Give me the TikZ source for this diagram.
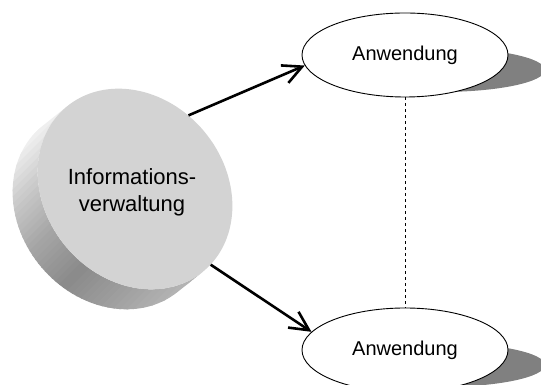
\documentclass[tikz,border=0pt]{standalone}
\usepackage{fontspec}
\setmainfont{Liberation Sans}
\usetikzlibrary{shapes.geometric,arrows.meta}
\definecolor{facegray}{RGB}{211,211,211}
\definecolor{shadowgray}{RGB}{128,128,128}
\begin{document}
\begin{tikzpicture}[x=1pt,y=1pt,
  appnode/.style={ellipse, draw, line width=0.9pt, fill=white,
    minimum width=206pt, minimum height=84pt, inner sep=0pt,
    font=\fontsize{20}{24}\selectfont},
  flow/.style={line width=2.6pt, -{Straight Barb[length=19pt,width=19pt]}},
  link/.style={line width=0.8pt, dash pattern=on 3pt off 3pt}]
\useasboundingbox (0,0) rectangle (541,385);
\clip (0,0) rectangle (541,385);

% drop shadows of the two application ellipses
\fill[shadowgray] (440,315) ellipse [x radius=105pt, y radius=22pt];
\fill[shadowgray] (440,20) ellipse [x radius=105pt, y radius=22pt];

% rim of the disk, extruded towards the lower left
\begin{scope}[shift={(135,196)}, rotate=-50]
  \clip
    (-107.73,-30.23) arc[start angle=178.87, end angle=358.87, x radius=107pt, y radius=90pt]
    -- (106.98,-1.775) arc[start angle=358.87, end angle=178.87, x radius=107pt, y radius=90pt]
    -- cycle;
  % undo the local frame, then lay grey bands across the diagonal
  \begin{scope}[rotate=50, shift={(-135,-196)}]
    \begin{scope}[shift={(0,225)}, rotate=-45]
      \foreach \i in {-4,...,52} {
        \pgfmathsetmacro{\s}{max(0,min(1,\i/48))}
        \pgfmathsetmacro{\g}{\s<0.15 ? 245-(\s/0.15)*40 :
          (\s<0.35 ? 205-((\s-0.15)/0.2)*40 :
          (\s<0.55 ? 165-((\s-0.35)/0.2)*27 :
          (\s<0.75 ? 138+((\s-0.55)/0.2)*22 :
          160+((\s-0.75)/0.25)*32)))}
        \pgfmathsetmacro{\gv}{\g/255}
        \definecolor{bandc}{gray}{\gv}
        \fill[bandc] (\i*5,-320) rectangle (\i*5+6,320);
      }
    \end{scope}
  \end{scope}
\end{scope}

% front face of the disk
\node[ellipse, fill=facegray, minimum width=214pt, minimum height=180pt,
  inner sep=0pt, rotate=-50] (info) at (135,196) {};
\node[font=\fontsize{22}{27}\selectfont, align=center] (infotext) at (132,193)
  {Informations-\\verwaltung};

% applications
\node[appnode] (app1) at (405,330) {Anwendung};
\node[appnode] (app2) at (405,35) {Anwendung};

% connectors
\draw[flow] (info.104) -- (app1.186);
\draw[flow] (info.5) -- (app2.169);
\draw[link] (app1.south) -- (app2.north);
\end{tikzpicture}
\end{document}
